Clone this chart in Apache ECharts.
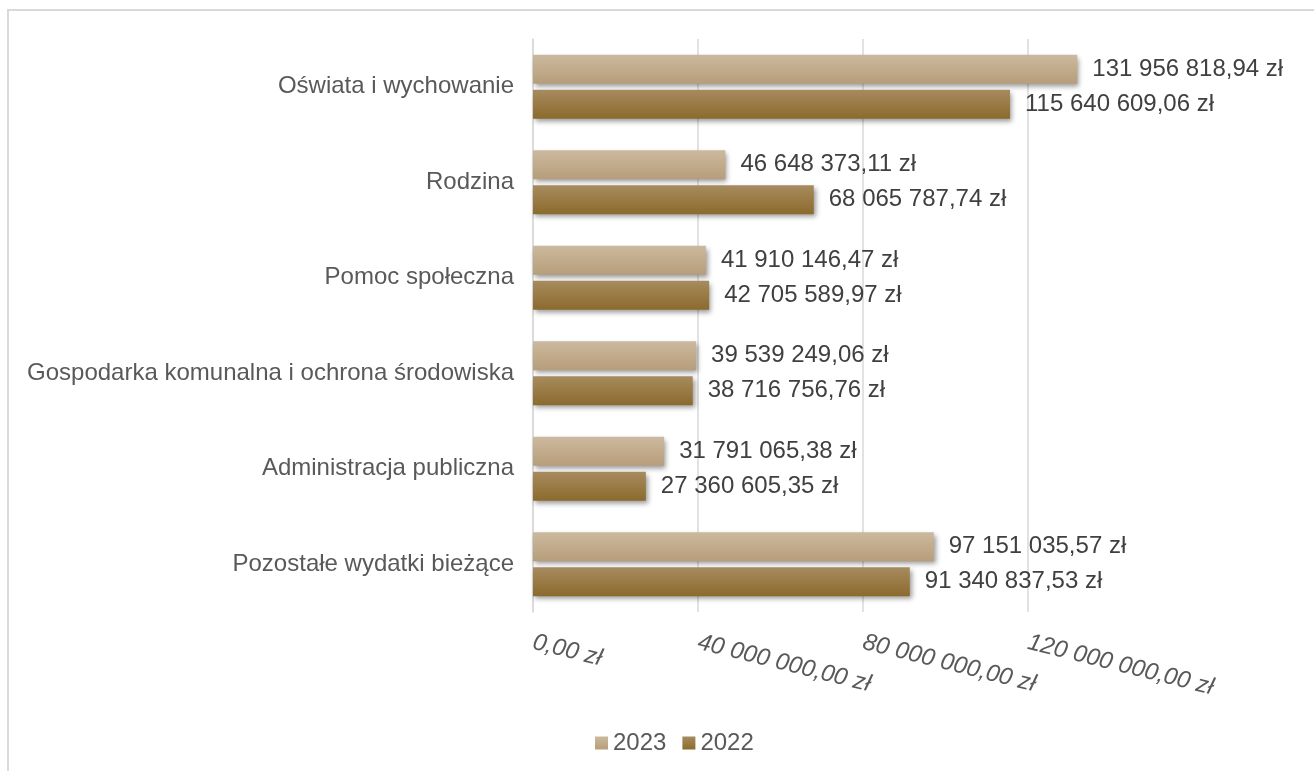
<!DOCTYPE html>
<html>
<head>
<meta charset="utf-8">
<script src="https://cdn.jsdelivr.net/npm/echarts@6/dist/echarts.min.js"></script>
<style>
html,body{margin:0;padding:0;background:#fff;overflow:hidden;}
#frame{position:absolute;left:7px;top:9px;width:1400px;height:900px;border:2px solid #d9d9d9;box-sizing:border-box;}
#chart{position:absolute;left:0;top:0;width:1314px;height:771px;}
</style>
</head>
<body>
<div id="frame"></div>
<div id="chart"></div>
<script>
const categories = ['Oświata i wychowanie','Rodzina','Pomoc społeczna','Gospodarka komunalna i ochrona środowiska','Administracja publiczna','Pozostałe wydatki bieżące'];
const seriesNames = ['2023','2022'];
const values2023 = [131956818.94, 46648373.11, 41910146.47, 39539249.06, 31791065.38, 97151035.57];
const values2022 = [115640609.06, 68065787.74, 42705589.97, 38716756.76, 27360605.35, 91340837.53];
const axisMax = 140000000;
const axisInterval = 40000000;

function fmt(v){
  const parts = Number(v).toFixed(2).split('.');
  const intPart = parts[0].replace(/\B(?=(\d{3})+(?!\d))/g, ' ');
  return intPart + ',' + parts[1] + ' zł';
}

const FONT = '"Liberation Sans", Arial, sans-serif';
const FS = 24;
const grad2023 = new echarts.graphic.LinearGradient(0,0,0,1,[
  {offset:0,color:'#cbb99f'},{offset:0.5,color:'#c2ab8b'},{offset:1,color:'#b69d7b'}]);
const grad2022 = new echarts.graphic.LinearGradient(0,0,0,1,[
  {offset:0,color:'#a78b60'},{offset:0.5,color:'#9a7b45'},{offset:1,color:'#8b6a2d'}]);

const chart = echarts.init(document.getElementById('chart'), null, {renderer:'canvas'});
const barCommon = {
  type:'bar',
  barWidth:29,
  barGap:'20%',
  label:{show:true, position:'right', distance:15, formatter:p=>fmt(p.value), color:'#404040', fontSize:FS, fontFamily:FONT},
};
chart.setOption({
  animation:false,
  backgroundColor:'transparent',
  grid:{left:533, top:39, width:577.5, height:573, containLabel:false},
  legend:{
    data:seriesNames, left:590, top:726, itemWidth:13, itemHeight:13, itemGap:16,
    icon:'rect',
    textStyle:{color:'#595959', fontSize:FS, fontFamily:FONT}
  },
  xAxis:{
    type:'value', min:0, max:axisMax, interval:axisInterval,
    axisLine:{show:false}, axisTick:{show:false},
    splitLine:{show:true, showMaxLine:false, lineStyle:{color:'#d9d9d9', width:1.5}},
    axisLabel:{
      rotate:-14, margin:30, color:'#595959', fontSize:FS, fontStyle:'italic', fontFamily:FONT,
      showMaxLabel:false,
      formatter:v=> v>=axisMax ? '' : fmt(v)
    }
  },
  yAxis:{
    type:'category', data:categories, inverse:true,
    axisLine:{show:true, lineStyle:{color:'#d9d9d9', width:1.5}},
    axisTick:{show:false},
    axisLabel:{color:'#595959', fontSize:FS, fontFamily:FONT, margin:19}
  },
  series:[
    Object.assign({}, barCommon, {name:seriesNames[0], data:values2023,
      itemStyle:{color:grad2023, shadowColor:'rgba(0,0,0,0.4)', shadowBlur:5, shadowOffsetX:2, shadowOffsetY:3}}),
    Object.assign({}, barCommon, {name:seriesNames[1], data:values2022,
      itemStyle:{color:grad2022, shadowColor:'rgba(0,0,0,0.4)', shadowBlur:5, shadowOffsetX:2, shadowOffsetY:3}})
  ]
});
</script>
</body>
</html>
